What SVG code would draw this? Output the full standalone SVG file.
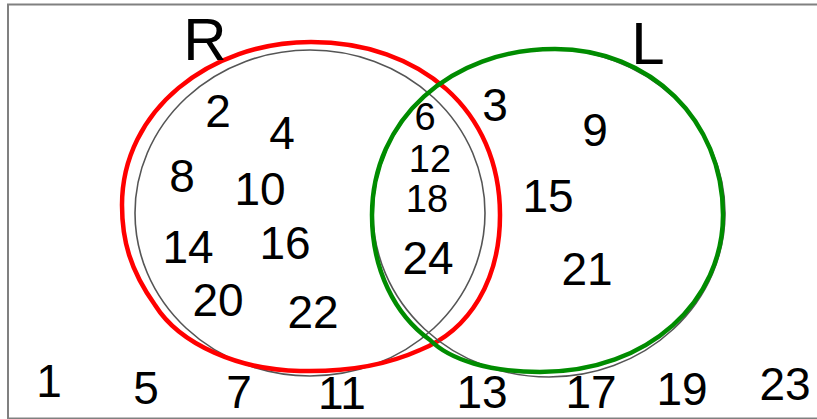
<svg xmlns="http://www.w3.org/2000/svg" width="817" height="419" viewBox="0 0 817 419">
<style>
.frame{fill:#fff;stroke:#808080;stroke-width:2}
.guide{fill:none;stroke:#555;stroke-width:1.6}
.r{fill:none;stroke:#ff0000;stroke-width:4.5}
.l{fill:none;stroke:#008c00;stroke-width:4.5}
text{font-family:"Liberation Sans","DejaVu Sans",sans-serif;font-size:46px;fill:#000;text-anchor:middle}
.mid{font-size:38px}
.big{font-size:60px}
</style>
<rect class="frame" x="8" y="4.5" width="820" height="414"/>
<g id="set-R">
<ellipse class="guide" cx="310" cy="213" rx="175" ry="163"/>
<path class="r" d="M 311 42 C 420 42 500 110 500 215 C 500 280 470 330 420 350 C 380 368 340 372 300 371 C 240 370 180 345 155 305 C 130 270 122 240 122 205 C 122 110 210 42 311 42 Z"/>
<text class="big" x="205" y="60">R</text>
</g>
<g id="set-L">
<ellipse class="guide" cx="549" cy="213" rx="176" ry="164"/>
<path class="l" d="M 555 49 C 650 49 723 120 723 215 C 723 300 650 372 540 372 C 490 372 450 360 430 340 C 395 315 372 270 372 215 C 372 120 450 49 555 49 Z"/>
<text class="big" x="648" y="64">L</text>
</g>
<g id="only-R">
<text x="218" y="127">2</text>
<text x="282" y="149">4</text>
<text x="182" y="192">8</text>
<text x="260" y="205">10</text>
<text x="188" y="263">14</text>
<text x="285" y="259">16</text>
<text x="218" y="316">20</text>
<text x="313" y="328">22</text>
</g>
<g id="both">
<text class="mid" x="425" y="130">6</text>
<text class="mid" x="430" y="172">12</text>
<text class="mid" x="427" y="212">18</text>
<text x="428" y="274">24</text>
</g>
<g id="only-L">
<text x="495" y="121">3</text>
<text x="595" y="146">9</text>
<text x="548" y="212">15</text>
<text x="587" y="285">21</text>
</g>
<g id="neither">
<text x="49" y="397">1</text>
<text x="146" y="404">5</text>
<text x="239" y="408">7</text>
<text x="342" y="409">11</text>
<text x="482" y="408">13</text>
<text x="591" y="408">17</text>
<text x="682" y="405">19</text>
<text x="785" y="400">23</text>
</g>
<g id="connectors"/>
</svg>
